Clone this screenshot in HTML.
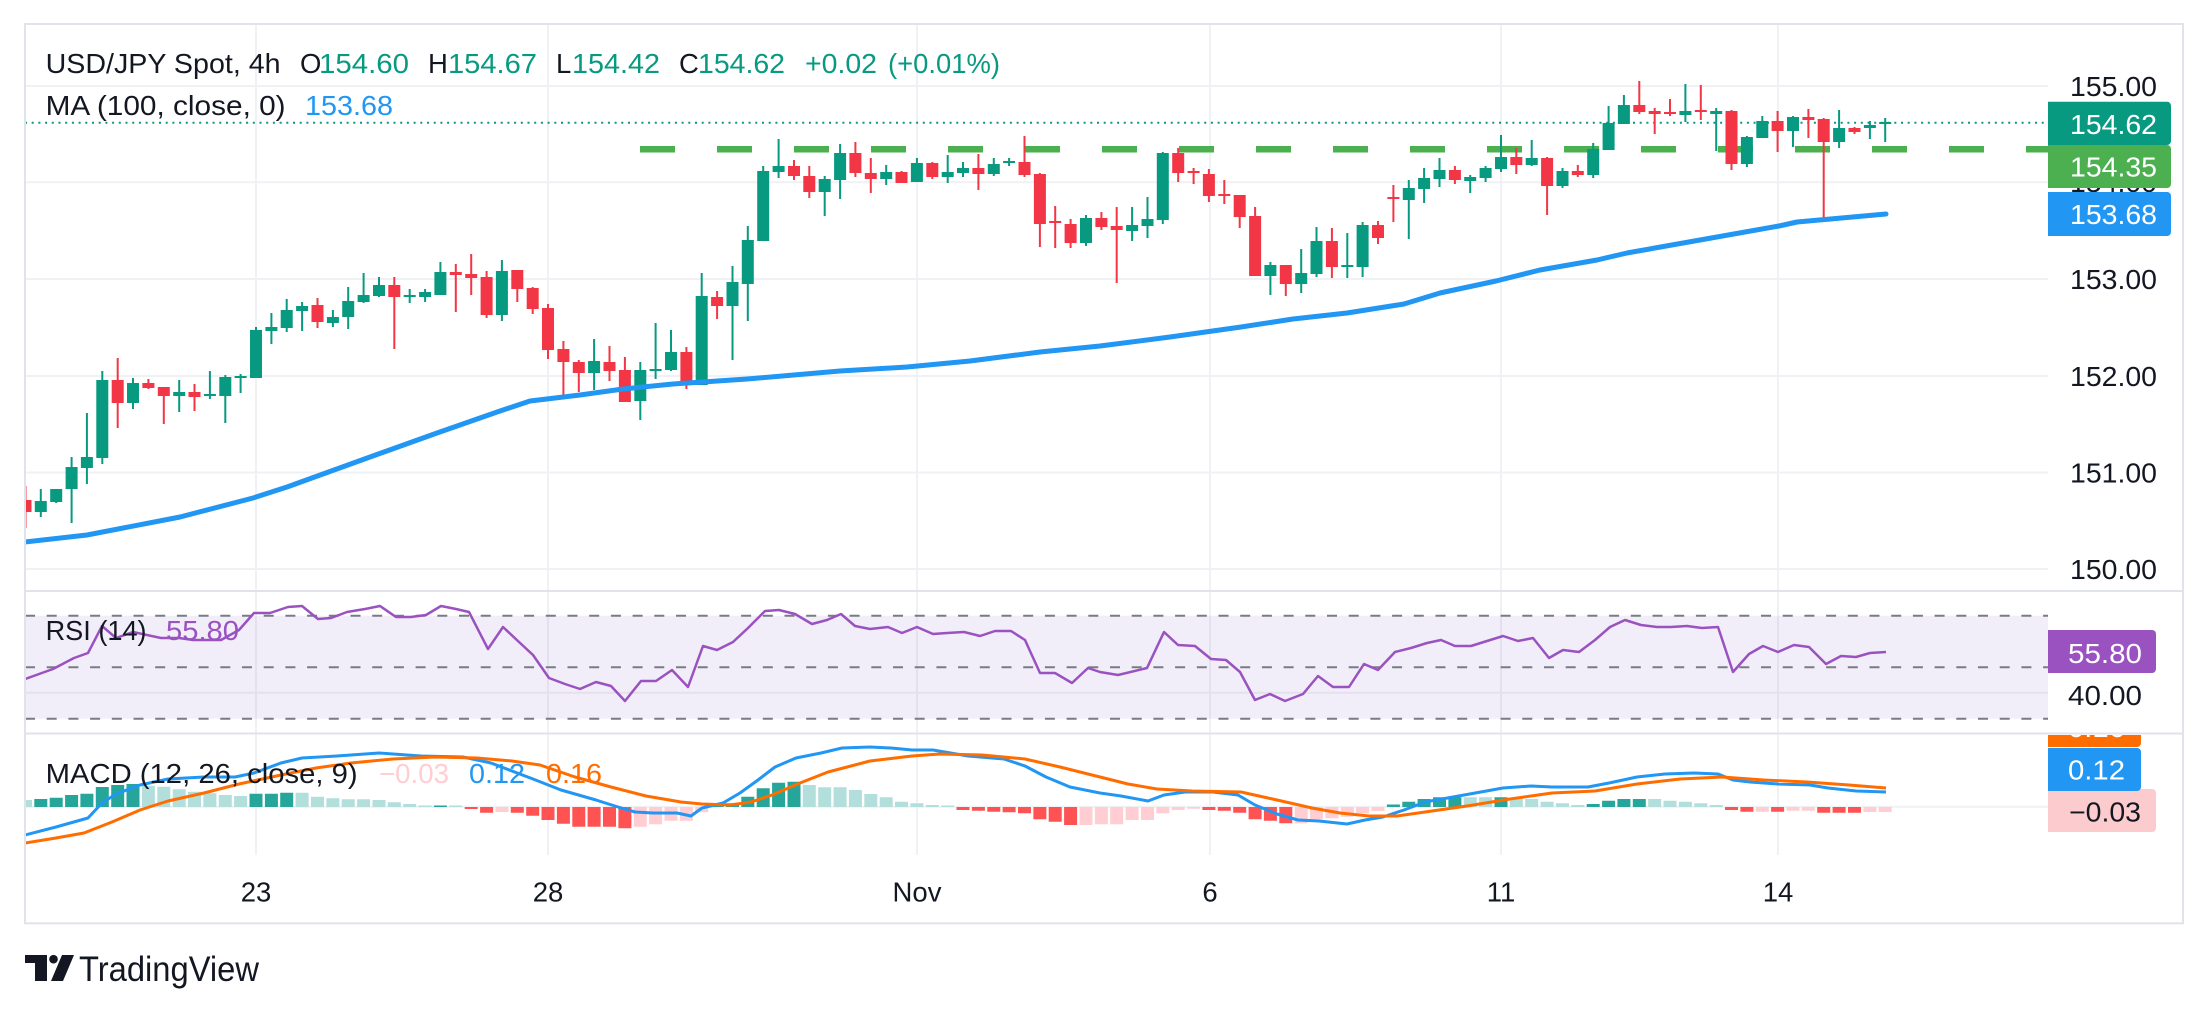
<!DOCTYPE html>
<html><head><meta charset="utf-8"><style>
html,body{margin:0;padding:0;background:#fff;}
svg{display:block;}
text{font-family:"Liberation Sans",Arial,sans-serif;font-size:27.5px;fill:#131722;}
</style></head><body>
<svg width="2208" height="1013" viewBox="0 0 2208 1013" xmlns="http://www.w3.org/2000/svg">
<defs>
<clipPath id="cm"><rect x="26" y="25" width="2022" height="565"/></clipPath>
<clipPath id="cr"><rect x="26" y="592" width="2022" height="141"/></clipPath>
<clipPath id="cd"><rect x="26" y="735" width="2022" height="120"/></clipPath>
<clipPath id="cdl"><rect x="2040" y="735" width="160" height="120"/></clipPath>
</defs>
<rect width="2208" height="1013" fill="#fff"/>
<!-- gridlines -->
<g stroke="#F0F1F4" stroke-width="2">
<line x1="25" y1="86" x2="2048" y2="86"/>
<line x1="25" y1="182.3" x2="2048" y2="182.3"/>
<line x1="25" y1="279" x2="2048" y2="279"/>
<line x1="25" y1="376" x2="2048" y2="376"/>
<line x1="25" y1="472.5" x2="2048" y2="472.5"/>
<line x1="25" y1="569" x2="2048" y2="569"/>
<line x1="256" y1="25" x2="256" y2="855"/>
<line x1="548" y1="25" x2="548" y2="855"/>
<line x1="917" y1="25" x2="917" y2="855"/>
<line x1="1210" y1="25" x2="1210" y2="855"/>
<line x1="1501" y1="25" x2="1501" y2="855"/>
<line x1="1778" y1="25" x2="1778" y2="855"/>
<line x1="25" y1="806.7" x2="2048" y2="806.7"/>
</g>
<!-- frame -->
<rect x="25" y="24" width="2158" height="899.3" fill="none" stroke="#E0E3EB" stroke-width="2"/>
<line x1="25" y1="591" x2="2183" y2="591" stroke="#E0E3EB" stroke-width="2"/>
<line x1="25" y1="733.5" x2="2183" y2="733.5" stroke="#E0E3EB" stroke-width="2"/>

<!-- main pane -->
<g clip-path="url(#cm)">
<line x1="25" y1="122.7" x2="2048" y2="122.7" stroke="#089981" stroke-width="2" stroke-dasharray="2 4.7"/>
<line x1="640" y1="149.3" x2="2048" y2="149.3" stroke="#4CAF50" stroke-width="6.5" stroke-dasharray="35 42"/>
<path fill="#089981" d="M39.8 489h2v28h-2zM34.8 501h12v11h-12zM55.2 489h2v14h-2zM50.2 489h12v13h-12zM70.6 457h2v66h-2zM65.6 467h12v22h-12zM85.9 413h2v71h-2zM80.9 457h12v11h-12zM101.3 371h2v93h-2zM96.3 380h12v78h-12zM132 378h2v31h-2zM127 383h12v20h-12zM178.2 380h2v32h-2zM173.2 392h12v4h-12zM208.9 371h2v28h-2zM203.9 394h12v2h-12zM224.3 375h2v48h-2zM219.3 377h12v19h-12zM239.6 374h2v19h-2zM234.6 376h12v2h-12zM255 327h2v51h-2zM250 330h12v48h-12zM270.4 313h2v31h-2zM265.4 327h12v4h-12zM285.7 299h2v33h-2zM280.7 310h12v18h-12zM301.1 302h2v29h-2zM296.1 306h12v5h-12zM331.9 310h2v17h-2zM326.9 317h12v6h-12zM347.2 287h2v42h-2zM342.2 301h12v16h-12zM362.6 273h2v30h-2zM357.6 295h12v7h-12zM378 277h2v20h-2zM373 285h12v11h-12zM408.7 289h2v14h-2zM403.7 295h12v2h-12zM424.1 289h2v13h-2zM419.1 292h12v5h-12zM439.4 262h2v33h-2zM434.4 272h12v23h-12zM500.9 260h2v61h-2zM495.9 271h12v44h-12zM593.1 339h2v51h-2zM588.1 361h12v12h-12zM639.3 362h2v58h-2zM634.3 370h12v31h-12zM654.6 323h2v56h-2zM649.6 369h12v2h-12zM670 330h2v41h-2zM665 352h12v18h-12zM700.7 273h2v112h-2zM695.7 296h12v89h-12zM731.5 266h2v94h-2zM726.5 282h12v24h-12zM746.8 226h2v95h-2zM741.8 240h12v44h-12zM762.2 166h2v75h-2zM757.2 171h12v70h-12zM777.6 139h2v39h-2zM772.6 166h12v6h-12zM823.7 176h2v40h-2zM818.7 179h12v13h-12zM839.1 144h2v55h-2zM834.1 153h12v27h-12zM885.2 165h2v20h-2zM880.2 172h12v7h-12zM915.9 158h2v24h-2zM910.9 163h12v19h-12zM946.7 155h2v28h-2zM941.7 172h12v5h-12zM962 162h2v15h-2zM957 168h12v5h-12zM992.8 158h2v18h-2zM987.8 164h12v10h-12zM1008.1 158h2v8h-2zM1003.1 161h12v2h-12zM1085 215h2v31h-2zM1080 218h12v25h-12zM1131.1 207h2v34h-2zM1126.1 225h12v6h-12zM1146.5 197h2v41h-2zM1141.5 219h12v7h-12zM1161.8 152h2v72h-2zM1156.8 153h12v67h-12zM1269.4 262h2v33h-2zM1264.4 265h12v11h-12zM1300.2 249h2v44h-2zM1295.2 273h12v11h-12zM1315.5 227h2v50h-2zM1310.5 241h12v33h-12zM1346.3 233h2v45h-2zM1341.3 265h12v2h-12zM1361.6 222h2v55h-2zM1356.6 225h12v42h-12zM1407.8 180h2v59h-2zM1402.8 188h12v12h-12zM1423.1 168h2v35h-2zM1418.1 178h12v11h-12zM1438.5 158h2v29h-2zM1433.5 170h12v9h-12zM1469.2 175h2v18h-2zM1464.2 177h12v4h-12zM1484.6 166h2v16h-2zM1479.6 168h12v10h-12zM1500 135h2v37h-2zM1495 157h12v12h-12zM1530.7 140h2v26h-2zM1525.7 158h12v7h-12zM1561.5 168h2v20h-2zM1556.5 171h12v15h-12zM1592.2 143h2v35h-2zM1587.2 149h12v26h-12zM1607.6 106h2v44h-2zM1602.6 123h12v27h-12zM1622.9 95h2v29h-2zM1617.9 105h12v19h-12zM1684.4 84h2v38h-2zM1679.4 111h12v4h-12zM1715.2 108h2v43h-2zM1710.2 111h12v3h-12zM1745.9 136h2v31h-2zM1740.9 137h12v27h-12zM1761.3 116h2v22h-2zM1756.3 121h12v17h-12zM1792 116h2v31h-2zM1787 117h12v14h-12zM1838.1 110h2v38h-2zM1833.1 128h12v14h-12zM1868.9 121h2v18h-2zM1863.9 125h12v3h-12zM1884.2 118h2v24h-2zM1879.2 122h12v2h-12z"/>
<path fill="#F23645" d="M24.5 486h2v42h-2zM19.5 500h12v12h-12zM116.7 358h2v70h-2zM111.7 380h12v23h-12zM147.4 379h2v10h-2zM142.4 383h12v5h-12zM162.8 387h2v37h-2zM157.8 387h12v9h-12zM193.5 384h2v27h-2zM188.5 392h12v5h-12zM316.5 298h2v30h-2zM311.5 305h12v17h-12zM393.3 277h2v72h-2zM388.3 285h12v12h-12zM454.8 264h2v48h-2zM449.8 272h12v3h-12zM470.2 254h2v41h-2zM465.2 274h12v4h-12zM485.6 271h2v47h-2zM480.6 277h12v38h-12zM516.3 270h2v32h-2zM511.3 270h12v19h-12zM531.7 287h2v27h-2zM526.7 288h12v21h-12zM547 304h2v55h-2zM542 308h12v42h-12zM562.4 341h2v58h-2zM557.4 349h12v13h-12zM577.8 360h2v32h-2zM572.8 362h12v11h-12zM608.5 346h2v35h-2zM603.5 362h12v9h-12zM623.9 357h2v45h-2zM618.9 370h12v32h-12zM685.4 347h2v42h-2zM680.4 352h12v33h-12zM716.1 291h2v28h-2zM711.1 297h12v9h-12zM793 160h2v20h-2zM788 166h12v10h-12zM808.3 166h2v32h-2zM803.3 176h12v16h-12zM854.4 142h2v35h-2zM849.4 153h12v20h-12zM869.8 158h2v35h-2zM864.8 173h12v6h-12zM900.5 171h2v12h-2zM895.5 172h12v11h-12zM931.3 162h2v17h-2zM926.3 163h12v14h-12zM977.4 154h2v36h-2zM972.4 168h12v6h-12zM1023.5 136h2v41h-2zM1018.5 162h12v13h-12zM1038.9 173h2v74h-2zM1033.9 174h12v50h-12zM1054.2 206h2v42h-2zM1049.2 221h12v2h-12zM1069.6 219h2v29h-2zM1064.6 224h12v19h-12zM1100.4 212h2v18h-2zM1095.4 218h12v9h-12zM1115.7 207h2v76h-2zM1110.7 226h12v4h-12zM1177.2 148h2v34h-2zM1172.2 153h12v20h-12zM1192.6 168h2v16h-2zM1187.6 171h12v2h-12zM1207.9 169h2v33h-2zM1202.9 174h12v22h-12zM1223.3 180h2v24h-2zM1218.3 194h12v2h-12zM1238.7 195h2v33h-2zM1233.7 195h12v22h-12zM1254.1 207h2v69h-2zM1249.1 216h12v60h-12zM1284.8 265h2v31h-2zM1279.8 265h12v19h-12zM1330.9 228h2v50h-2zM1325.9 241h12v26h-12zM1377 221h2v23h-2zM1372 225h12v13h-12zM1392.4 185h2v37h-2zM1387.4 197h12v2h-12zM1453.9 166h2v18h-2zM1448.9 170h12v10h-12zM1515.3 148h2v26h-2zM1510.3 157h12v8h-12zM1546.1 157h2v58h-2zM1541.1 158h12v28h-12zM1576.8 165h2v12h-2zM1571.8 171h12v4h-12zM1638.3 81h2v33h-2zM1633.3 105h12v7h-12zM1653.7 108h2v26h-2zM1648.7 111h12v3h-12zM1669 99h2v17h-2zM1664 112h12v2h-12zM1699.8 85h2v35h-2zM1694.8 110h12v2h-12zM1730.5 110h2v60h-2zM1725.5 111h12v53h-12zM1776.6 111h2v41h-2zM1771.6 121h12v10h-12zM1807.4 109h2v29h-2zM1802.4 117h12v3h-12zM1822.7 118h2v101h-2zM1817.7 119h12v23h-12zM1853.5 127h2v7h-2zM1848.5 128h12v4h-12z"/>
<polyline fill="none" stroke="#2196F3" stroke-width="5" stroke-linejoin="round" stroke-linecap="round" points="25,542 87,535 180,517 253,498 287,487 370,457 437,433 500,411 530,401 580,395 623,389 673,384 747,379 840,371 907,367 970,361 1040,352 1100,346 1170,337 1241,327 1293,319 1347,313 1404,304 1440,293 1496,281 1540,270 1597,260 1627,253 1700,240 1779,226 1797,222 1886,214"/>
</g>

<!-- RSI pane -->
<g clip-path="url(#cr)">
<rect x="25" y="615.7" width="2023" height="103" fill="rgba(126,87,194,0.1)"/>
<line x1="25" y1="692.7" x2="2048" y2="692.7" stroke="#E4E0EC" stroke-width="2"/>
<g stroke="#787B86" stroke-width="2" stroke-dasharray="10 11.7">
<line x1="25" y1="615.7" x2="2048" y2="615.7"/>
<line x1="25" y1="667.2" x2="2048" y2="667.2"/>
<line x1="25" y1="718.7" x2="2048" y2="718.7"/>
</g>
<polyline fill="none" stroke="#9A52C0" stroke-width="2.5" stroke-linejoin="round" points="25,679 53,669 74,658 88,653 102,626 116,638 133,632 161,638 179,638 193,640 221,640 239,630 254,613 270,613 288,607 302,606 318,619 331,618 347,612 365,609 380,606 396,617 411,617 426,615 441,606 456,609 469,612 488,649 503,627 519,642 533,655 549,678 565,684 580,689 596,682 611,686 625,701 641,681 656,681 672,670 688,687 703,646 717,650 733,642 748,628 765,611 779,610 795,614 812,624 827,620 841,614 855,626 870,629 888,627 902,633 917,627 933,634 947,633 964,632 980,636 995,631 1011,631 1025,640 1040,673 1055,673 1072,683 1088,668 1100,672 1118,675 1147,668 1164,632 1178,645 1195,646 1211,659 1226,660 1240,672 1255,700 1270,694 1285,701 1303,694 1318,676 1333,687 1349,687 1364,664 1378,670 1395,652 1411,648 1427,643 1441,640 1455,646 1471,646 1487,641 1503,636 1518,641 1533,638 1549,658 1563,650 1579,652 1595,640 1610,627 1625,620 1641,625 1657,627 1671,627 1687,626 1702,628 1718,627 1733,672 1749,654 1763,646 1778,652 1794,645 1809,647 1826,664 1841,656 1856,657 1870,653 1886,652"/>
</g>

<!-- MACD pane -->
<g clip-path="url(#cd)">
<path fill="#26A69A" d="M34.3 799h13V807h-13zM49.7 797.7h13V807h-13zM65.1 795h13V807h-13zM80.4 793.7h13V807h-13zM95.8 787h13V807h-13zM111.2 785h13V807h-13zM126.5 784h13V807h-13zM249.5 793.7h13V807h-13zM264.9 793.7h13V807h-13zM280.2 792.7h13V807h-13zM433.9 805.5h13V807h-13zM710.6 803.3h13V807h-13zM726 803.3h13V807h-13zM741.3 796.7h13V807h-13zM756.7 788.3h13V807h-13zM772.1 782.7h13V807h-13zM787.5 781.7h13V807h-13zM1386.9 804.5h13V807h-13zM1402.3 801.7h13V807h-13zM1417.6 799h13V807h-13zM1433 797.3h13V807h-13zM1448.4 797.3h13V807h-13zM1494.5 797.3h13V807h-13zM1586.7 804h13V807h-13zM1602.1 800.7h13V807h-13zM1617.4 799h13V807h-13zM1632.8 799h13V807h-13z"/>
<path fill="#B2DFDB" d="M19 800h13V807h-13zM141.9 785.7h13V807h-13zM157.3 786.7h13V807h-13zM172.7 789.3h13V807h-13zM188 791.7h13V807h-13zM203.4 793.3h13V807h-13zM218.8 795h13V807h-13zM234.1 796h13V807h-13zM295.6 792.7h13V807h-13zM311 796.7h13V807h-13zM326.4 798.3h13V807h-13zM341.7 799.3h13V807h-13zM357.1 799.3h13V807h-13zM372.5 800h13V807h-13zM387.8 802.3h13V807h-13zM403.2 804h13V807h-13zM418.6 805.5h13V807h-13zM449.3 805.5h13V807h-13zM802.8 785h13V807h-13zM818.2 787.3h13V807h-13zM833.6 787.3h13V807h-13zM848.9 790h13V807h-13zM864.3 794h13V807h-13zM879.7 797.3h13V807h-13zM895 801.7h13V807h-13zM910.4 803.3h13V807h-13zM925.8 805h13V807h-13zM941.2 805.5h13V807h-13zM1463.7 797.3h13V807h-13zM1479.1 797.3h13V807h-13zM1509.8 798h13V807h-13zM1525.2 799h13V807h-13zM1540.6 801.7h13V807h-13zM1556 803.3h13V807h-13zM1571.3 805h13V807h-13zM1648.2 799h13V807h-13zM1663.5 800.7h13V807h-13zM1678.9 801.7h13V807h-13zM1694.3 803.3h13V807h-13zM1709.7 805h13V807h-13z"/>
<path fill="#FF5252" d="M464.7 807h13V809h-13zM480.1 807h13V812.7h-13zM510.8 807h13V812.7h-13zM526.2 807h13V815.7h-13zM541.5 807h13V820h-13zM556.9 807h13V823.7h-13zM572.3 807h13V826.7h-13zM587.6 807h13V826.7h-13zM603 807h13V826.7h-13zM618.4 807h13V828.3h-13zM956.5 807h13V810h-13zM971.9 807h13V810.7h-13zM987.3 807h13V811.7h-13zM1002.6 807h13V812.3h-13zM1018 807h13V813.3h-13zM1033.4 807h13V819.3h-13zM1048.7 807h13V821.7h-13zM1064.1 807h13V825h-13zM1202.4 807h13V810h-13zM1217.8 807h13V810.7h-13zM1233.2 807h13V812.7h-13zM1248.6 807h13V819.3h-13zM1263.9 807h13V820.7h-13zM1279.3 807h13V823.3h-13zM1725 807h13V810h-13zM1740.4 807h13V811.7h-13zM1771.1 807h13V811.7h-13zM1817.2 807h13V812.7h-13zM1832.6 807h13V812.7h-13zM1848 807h13V812.7h-13z"/>
<path fill="#FFCDD2" d="M495.4 807h13V812h-13zM633.8 807h13V826.7h-13zM649.1 807h13V824.3h-13zM664.5 807h13V820.7h-13zM679.9 807h13V820.7h-13zM695.2 807h13V812.3h-13zM1079.5 807h13V825h-13zM1094.9 807h13V824.3h-13zM1110.2 807h13V824.3h-13zM1125.6 807h13V820h-13zM1141 807h13V820h-13zM1156.3 807h13V813.3h-13zM1171.7 807h13V810h-13zM1187.1 807h13V808.7h-13zM1294.7 807h13V823.3h-13zM1310 807h13V819.3h-13zM1325.4 807h13V818.3h-13zM1340.8 807h13V816.7h-13zM1356.1 807h13V813.3h-13zM1371.5 807h13V811h-13zM1755.8 807h13V811.7h-13zM1786.5 807h13V810.7h-13zM1801.9 807h13V810.7h-13zM1863.4 807h13V812h-13zM1878.7 807h13V812h-13z"/>
<polyline fill="none" stroke="#2196F3" stroke-width="3" stroke-linejoin="round" points="25,835 56,827 88,818 102,803 116,794 140,785 168,779 204,777 235,777 254,773 281,763 302,758 337,756 379,753 421,756 463,757 491,763 533,779 561,790 596,800 618,807 635,812 653,813 677,813 691,816 702,808 723,803 740,793 758,780 775,767 796,758 821,753 842,748 870,747 891,748 912,750 933,750 968,756 1004,759 1025,766 1046,777 1070,787 1100,793 1121,796 1148,801 1164,795 1185,792 1213,792 1238,795 1255,805 1277,814 1298,820 1319,821 1347,824 1365,820 1383,817 1404,810 1425,802 1453,797 1503,788 1531,786 1552,787 1588,787 1609,783 1637,777 1665,774 1694,773 1718,774 1733,780 1750,782 1778,784 1810,785 1828,788 1856,791 1886,792"/>
<polyline fill="none" stroke="#FF6D00" stroke-width="3" stroke-linejoin="round" points="25,843 56,838 84,833 112,822 140,810 168,801 204,793 239,784 281,775 316,768 351,763 393,759 435,757 477,758 512,761 540,765 575,777 611,787 646,796 681,802 702,804 730,805 751,802 772,795 800,783 828,772 870,761 912,756 940,754 982,755 1025,759 1060,767 1100,777 1128,784 1157,789 1192,791 1241,792 1277,800 1312,808 1340,813 1369,816 1397,816 1425,812 1467,806 1510,799 1552,793 1595,791 1637,784 1680,779 1722,777 1764,780 1807,782 1849,785 1886,788"/>
</g>

<!-- legends -->
<text x="45.6" y="73" textLength="235" lengthAdjust="spacingAndGlyphs">USD/JPY Spot, 4h</text>
<text x="300" y="73">O</text>
<text x="319" y="73" textLength="90" lengthAdjust="spacingAndGlyphs" style="fill:#089981">154.60</text>
<text x="428" y="73">H</text>
<text x="448" y="73" textLength="89" lengthAdjust="spacingAndGlyphs" style="fill:#089981">154.67</text>
<text x="556" y="73">L</text>
<text x="572" y="73" textLength="88" lengthAdjust="spacingAndGlyphs" style="fill:#089981">154.42</text>
<text x="679" y="73">C</text>
<text x="698" y="73" textLength="87" lengthAdjust="spacingAndGlyphs" style="fill:#089981">154.62</text>
<text x="805" y="73" textLength="72" lengthAdjust="spacingAndGlyphs" style="fill:#089981">+0.02</text>
<text x="888" y="73" textLength="112" lengthAdjust="spacingAndGlyphs" style="fill:#089981">(+0.01%)</text>

<text x="45.6" y="115" textLength="240" lengthAdjust="spacingAndGlyphs">MA (100, close, 0)</text>
<text x="305" y="115" textLength="88" lengthAdjust="spacingAndGlyphs" style="fill:#2196F3">153.68</text>

<text x="45.6" y="640" textLength="101" lengthAdjust="spacingAndGlyphs">RSI (14)</text>
<text x="166" y="640" textLength="73" lengthAdjust="spacingAndGlyphs" style="fill:#9A52C0">55.80</text>

<text x="45.6" y="783" textLength="312" lengthAdjust="spacingAndGlyphs">MACD (12, 26, close, 9)</text>
<text x="379" y="783" textLength="70" lengthAdjust="spacingAndGlyphs" style="fill:#FFCDD2">−0.03</text>
<text x="469" y="783" textLength="56" lengthAdjust="spacingAndGlyphs" style="fill:#2196F3">0.12</text>
<text x="546" y="783" textLength="56" lengthAdjust="spacingAndGlyphs" style="fill:#FF6D00">0.16</text>

<!-- price axis -->
<text x="2070" y="96" textLength="87" lengthAdjust="spacingAndGlyphs">155.00</text>
<text x="2070" y="192" textLength="87" lengthAdjust="spacingAndGlyphs">154.00</text>
<text x="2070" y="289" textLength="87" lengthAdjust="spacingAndGlyphs">153.00</text>
<text x="2070" y="386" textLength="87" lengthAdjust="spacingAndGlyphs">152.00</text>
<text x="2070" y="482.5" textLength="87" lengthAdjust="spacingAndGlyphs">151.00</text>
<text x="2070" y="579" textLength="87" lengthAdjust="spacingAndGlyphs">150.00</text>

<path fill="#089981" d="M2048 101.7h119a4 4 0 0 1 4 4v35.3a4 4 0 0 1-4 4H2048Z"/>
<text x="2070" y="134" textLength="87" lengthAdjust="spacingAndGlyphs" style="fill:#fff">154.62</text>
<path fill="#4CAF50" d="M2048 145h119a4 4 0 0 1 4 4v35a4 4 0 0 1-4 4H2048Z"/>
<text x="2070" y="176.7" textLength="87" lengthAdjust="spacingAndGlyphs" style="fill:#fff">154.35</text>
<path fill="#2196F3" d="M2048 192h119a4 4 0 0 1 4 4v36a4 4 0 0 1-4 4H2048Z"/>
<text x="2070" y="224" textLength="87" lengthAdjust="spacingAndGlyphs" style="fill:#fff">153.68</text>

<path fill="#9A52C0" d="M2048 630h104a4 4 0 0 1 4 4v35a4 4 0 0 1-4 4H2048Z"/>
<text x="2068" y="663" textLength="74" lengthAdjust="spacingAndGlyphs" style="fill:#fff">55.80</text>
<text x="2068" y="705" textLength="74" lengthAdjust="spacingAndGlyphs">40.00</text>

<g clip-path="url(#cdl)">
<path fill="#FF6D00" d="M2048 704h89a4 4 0 0 1 4 4v35a4 4 0 0 1-4 4H2048Z"/>
<text x="2068" y="737" textLength="57" lengthAdjust="spacingAndGlyphs" style="fill:#fff">0.16</text>
</g>
<path fill="#FCCBCE" d="M2048 789h104a4 4 0 0 1 4 4v35a4 4 0 0 1-4 4H2048Z"/>
<text x="2069" y="821.7" textLength="72" lengthAdjust="spacingAndGlyphs" style="fill:#131722">−0.03</text>
<path fill="#2196F3" d="M2048 748h89a4 4 0 0 1 4 4v35a4 4 0 0 1-4 4H2048Z"/>
<text x="2068" y="779.3" textLength="57" lengthAdjust="spacingAndGlyphs" style="fill:#fff">0.12</text>

<!-- time axis -->
<g text-anchor="middle">
<text x="256" y="901.5">23</text>
<text x="548" y="901.5">28</text>
<text x="917" y="901.5">Nov</text>
<text x="1210" y="901.5">6</text>
<text x="1501" y="901.5">11</text>
<text x="1778" y="901.5">14</text>
</g>

<!-- logo -->
<path fill="#131722" d="M25 955H47V981H35V963H25Z"/>
<circle cx="53.5" cy="959.2" r="4.3" fill="#131722"/>
<path fill="#131722" d="M62 955H74L63 981H51Z"/>
<text x="79" y="981" textLength="180" lengthAdjust="spacingAndGlyphs" style="font-size:35px">TradingView</text>
</svg>
</body></html>
